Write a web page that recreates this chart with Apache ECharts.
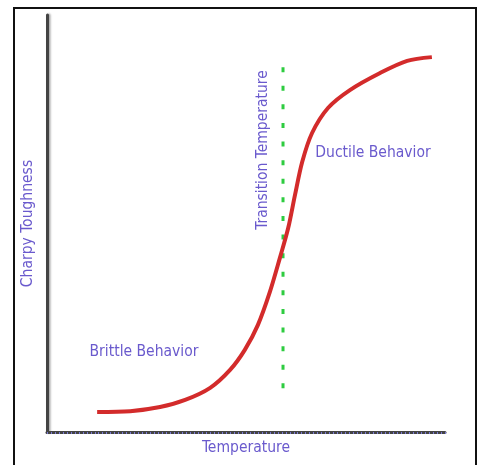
<!DOCTYPE html>
<html>
<head>
<meta charset="utf-8">
<script src="https://cdn.jsdelivr.net/npm/echarts@6/dist/echarts.min.js"></script>
<style>html,body{margin:0;padding:0;background:#fff}#c{width:477px;height:465px}</style>
</head>
<body>
<div id="c"></div>
<script>
// Temperature (arbitrary units 0-100) and Charpy toughness (arbitrary 0-100)
var curveTemp = [12.6, 20.9, 28.4, 34.7, 41.0, 46.0, 49.7, 53.0, 56.0, 58.5, 60.6, 62.3, 64.1, 66.6, 70.6, 76.1, 83.7, 90.5, 96.7];
var curveTough = [4.8, 5.0, 6.0, 7.7, 10.6, 14.9, 19.7, 25.7, 33.6, 41.7, 48.9, 56.8, 64.7, 71.7, 77.7, 82.0, 86.1, 89.0, 89.9];
var transitionTemp = 59.3;
var transitionRange = [87.5, 8.6];
var xName = 'Temperature';
var yName = 'Charpy Toughness';
var annotations = ['Transition Temperature', 'Ductile Behavior', 'Brittle Behavior'];

var textColor = '#6a5acd';
var font = '"DejaVu Sans Condensed", "DejaVu Sans", sans-serif';

var chart = echarts.init(document.getElementById('c'), null, {renderer: 'canvas'});
chart.setOption({
  animation: false,
  backgroundColor: '#fff',
  grid: {left: 47, right: 32, top: 15, bottom: 33},
  xAxis: {
    type: 'value', min: 0, max: 100, interval: 1,
    name: xName, nameLocation: 'middle', nameGap: 8,
    nameTextStyle: {color: textColor, fontSize: 15.5, fontFamily: font},
    axisLine: {show: true, lineStyle: {color: '#444', width: 3}},
    axisTick: {show: true, length: 2, inside: false, lineStyle: {color: '#7b7bd6', width: 1}},
    axisLabel: {show: false},
    splitLine: {show: false}
  },
  yAxis: {
    type: 'value', min: 0, max: 100,
    name: yName, nameLocation: 'middle', nameGap: 11, nameRotate: 90,
    nameTextStyle: {color: textColor, fontSize: 15.5, fontFamily: font},
    axisLine: {show: true, lineStyle: {color: '#444', width: 3, shadowColor: 'rgba(0,0,0,0.35)', shadowOffsetX: 1.5, shadowBlur: 2}},
    axisTick: {show: false},
    axisLabel: {show: false},
    splitLine: {show: false}
  },
  series: [
    {
      type: 'line',
      data: transitionRange.map(function (v) { return [transitionTemp, v]; }),
      symbol: 'none',
      lineStyle: {color: '#2ecc40', width: 3, type: [5, 13.6]},
      z: 2
    },
    {
      type: 'line',
      data: curveTemp.map(function (t, i) { return [t, curveTough[i]]; }),
      smooth: 0.3,
      symbol: 'none',
      lineStyle: {color: '#d32b2b', width: 4},
      z: 3
    }
  ],
  graphic: [
    {type: 'rect', shape: {x: 14, y: 8, width: 462, height: 480}, style: {fill: 'none', stroke: '#111', lineWidth: 2}, silent: true},
    {type: 'text', x: 263, y: 150, rotation: Math.PI / 2, style: {text: annotations[0], fill: textColor, font: '15.5px ' + font, align: 'center', verticalAlign: 'middle'}},
    {type: 'text', x: 373, y: 153, style: {text: annotations[1], fill: textColor, font: '15.5px ' + font, align: 'center', verticalAlign: 'middle'}},
    {type: 'text', x: 144, y: 352, style: {text: annotations[2], fill: textColor, font: '15.5px ' + font, align: 'center', verticalAlign: 'middle'}}
  ]
});
</script>
</body>
</html>
